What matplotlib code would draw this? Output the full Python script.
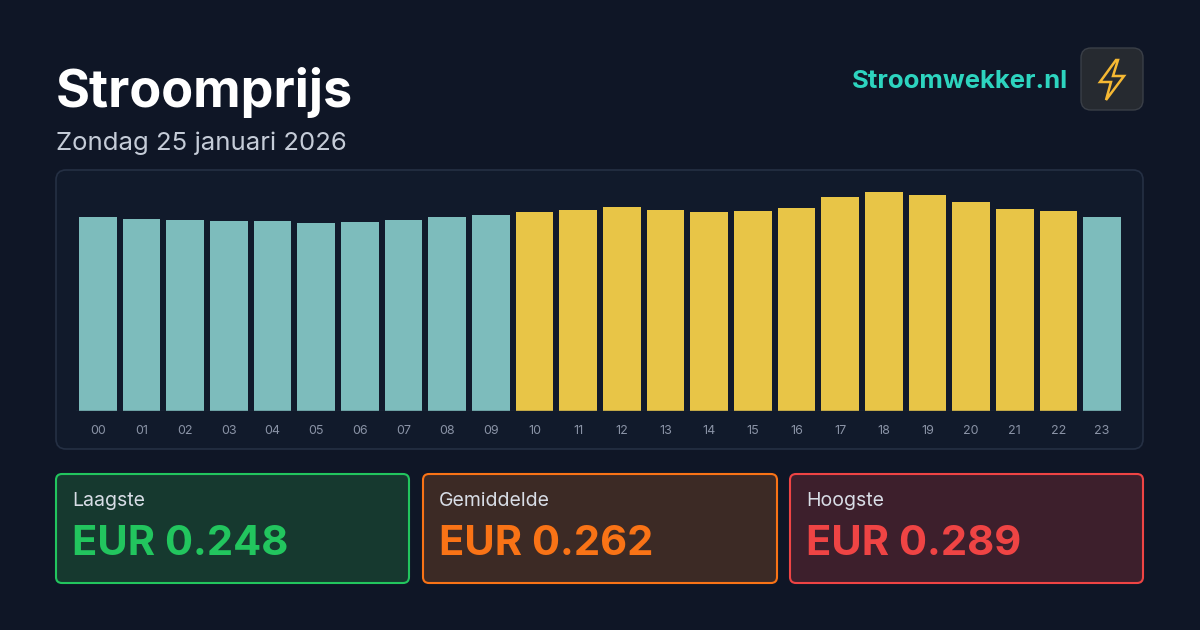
import matplotlib
matplotlib.use("Agg")
import matplotlib.pyplot as plt
from matplotlib.patches import FancyBboxPatch, Polygon

hours = [f"{h:02d}" for h in range(24)]
prices = [0.256,0.253,0.252,0.251,0.251,0.248,0.249,0.252,0.256,0.259,0.263,0.265,
          0.269,0.265,0.263,0.264,0.268,0.282,0.289,0.285,0.276,0.267,0.264,0.256]
highlight = [False]*10 + [True]*13 + [False]
stat_labels = ["Laagste", "Gemiddelde", "Hoogste"]
stat_values = ["EUR 0.248", "EUR 0.262", "EUR 0.289"]

plt.rcParams['font.family'] = ['Inter', 'DejaVu Sans']
W, H = 1200, 630
BG = "#0f1626"
fig = plt.figure(figsize=(12, 6.3), dpi=100, facecolor=BG)

def box(x0, y0, x1, y1, fc, ec, lw=1.5, r=8):
    p = FancyBboxPatch((x0/W, 1-y1/H), (x1-x0)/W, (y1-y0)/H,
                       boxstyle=f"round,pad=0,rounding_size={r/W}",
                       transform=fig.transFigure, fc=fc, ec=ec, lw=lw, mutation_aspect=W/H)
    fig.patches.append(p)

def text(x, y, s, **kw):
    fig.text(x/W, 1-y/H, s, **kw)

text(56, 92, "Stroomprijs", fontsize=37.5, fontweight="bold", color="white", va="center")
text(56, 143, "Zondag 25 januari 2026", fontsize=18.5, color="#c5ccd8", va="center")
text(1068, 81, "Stroomwekker.nl", fontsize=18.5, fontweight="bold", color="#2dd4bf", va="center", ha="right")
box(1081, 48, 1143, 110, "#262a30", "#3a3f47", lw=1, r=10)
bolt = [(1116,60),(1100,82),(1111,82),(1106,100),(1124,76),(1113,76),(1118,60)]
fig.patches.append(Polygon([(x/W, 1-y/H) for x, y in bolt], closed=True, transform=fig.transFigure,
                           fc="none", ec="#f5b833", lw=1.8))

box(56, 170, 1143, 449, "#111a2b", "#253044", lw=1.2, r=10)
ax = fig.add_axes([76/W, 1-411/H, (1124-76)/W, (411-180)/H])
ax.set_zorder(5)
ax.set_facecolor("none")
cols = ["#e8c547" if h else "#7dbcbc" for h in highlight]
ax.bar(range(24), prices, width=0.87, color=cols)
ax.set_xlim(-0.5, 23.5)
ax.set_ylim(0, 0.289*231/219)
ax.axhline(0, color="#2a3446", lw=1)
for s in ax.spines.values():
    s.set_visible(False)
ax.set_yticks([])
ax.set_xticks(range(24))
ax.set_xticklabels(hours, fontsize=9, color="#8a93a6")
ax.tick_params(axis="x", length=0, pad=10)

cards = [(56, 409, "#16392f", "#22c55e"), (423, 777, "#3c2a25", "#f97316"), (790, 1143, "#3d1f2c", "#ef4444")]
for (x0, x1, fc, ec), lab, val in zip(cards, stat_labels, stat_values):
    box(x0, 474, x1, 583, fc, ec, lw=1.5, r=6)
    text(x0+16, 501, lab, fontsize=14, color="#d8dde6", va="center")
    text(x0+16, 544, val, fontsize=30, fontweight="bold", color=ec, va="center")

fig.savefig("out.png", dpi=100, facecolor=BG)
